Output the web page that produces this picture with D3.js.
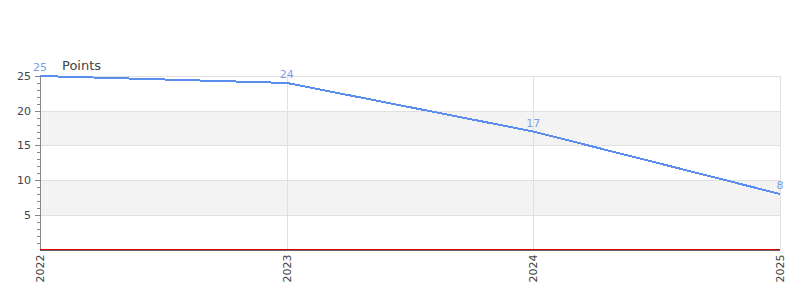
<!DOCTYPE html>
<html>
<head>
<meta charset="utf-8">
<script src="https://cdn.jsdelivr.net/npm/d3@7"></script>
<style>
  body { margin: 0; background: #fff; }
  svg { font-family: "DejaVu Sans", sans-serif; display: block; }
</style>
</head>
<body>
<svg id="chart"></svg>
<script>
// data
const years = [2022, 2023, 2024, 2025];
const points = [25, 24, 17, 8];
const yTicks = [5, 10, 15, 20, 25];
const seriesName = 'Points';

const width = 800, height = 300;
const margin = { top: 76, right: 20, bottom: 50.5, left: 40 };
const innerW = width - margin.left - margin.right;
const innerH = height - margin.top - margin.bottom;

const svg = d3.select('#chart').attr('width', width).attr('height', height);
const g = svg.append('g').attr('transform', `translate(${margin.left},${margin.top})`);

const x = d3.scaleLinear().domain(d3.extent(years)).range([0, innerW]);
const y = d3.scaleLinear().domain([0, 25]).range([innerH, 0]);

// alternating bands
const bands = d3.range(0, 25, 5);
g.selectAll('.band')
  .data(bands)
  .join('rect')
  .attr('class', 'band')
  .attr('x', 0)
  .attr('width', innerW)
  .attr('y', d => y(d + 5))
  .attr('height', d => y(d) - y(d + 5))
  .attr('fill', (d, i) => i % 2 === 1 ? '#f3f3f3' : '#fff');

// horizontal grid
g.selectAll('.hgrid')
  .data(yTicks)
  .join('line')
  .attr('x1', 0).attr('x2', innerW)
  .attr('y1', d => Math.round(y(d)) + 0.5).attr('y2', d => Math.round(y(d)) + 0.5)
  .attr('stroke', '#e0e0e0');

// vertical grid
g.selectAll('.vgrid')
  .data(years.slice(1))
  .join('line')
  .attr('y1', 0).attr('y2', innerH)
  .attr('x1', d => Math.round(x(d)) + 0.5).attr('x2', d => Math.round(x(d)) + 0.5)
  .attr('stroke', '#e0e0e0');

// y axis with minor ticks
const minor = d3.range(1, 26).filter(v => v % 5 !== 0);
g.append('line')
  .attr('x1', 0.5).attr('x2', 0.5)
  .attr('y1', 0).attr('y2', innerH)
  .attr('stroke', '#888');
g.selectAll('.minor')
  .data(minor)
  .join('line')
  .attr('x1', -3).attr('x2', 0)
  .attr('y1', d => Math.round(y(d)) + 0.5).attr('y2', d => Math.round(y(d)) + 0.5)
  .attr('stroke', '#888');
g.selectAll('.major')
  .data(yTicks)
  .join('line')
  .attr('x1', -5).attr('x2', 0)
  .attr('y1', d => Math.round(y(d)) + 0.5).attr('y2', d => Math.round(y(d)) + 0.5)
  .attr('stroke', '#888');
g.selectAll('.ylab')
  .data(yTicks)
  .join('text')
  .attr('x', -9)
  .attr('y', d => y(d))
  .attr('dy', '0.35em')
  .attr('text-anchor', 'end')
  .attr('font-size', 11)
  .attr('fill', '#444')
  .text(d => d);

// baseline
g.append('line')
  .attr('x1', 0).attr('x2', innerW)
  .attr('y1', innerH + 1).attr('y2', innerH + 1)
  .attr('stroke', '#666');
g.append('line')
  .attr('x1', 0).attr('x2', innerW)
  .attr('y1', innerH).attr('y2', innerH)
  .attr('stroke', '#e00000');

// x labels
g.selectAll('.xlab')
  .data(years)
  .join('text')
  .attr('transform', d => `translate(${x(d)},${innerH + 5}) rotate(-90)`)
  .attr('dy', '0.35em')
  .attr('text-anchor', 'end')
  .attr('font-size', 11)
  .attr('fill', '#444')
  .text(d => d);

// line
const line = d3.line()
  .x((d, i) => x(years[i]))
  .y(d => y(d));
g.append('path')
  .datum(points)
  .attr('d', line)
  .attr('fill', 'none')
  .attr('stroke', '#5b8def')
  .attr('stroke-width', 2)
  .attr('shape-rendering', 'crispEdges');

// value labels
g.selectAll('.vlab')
  .data(points)
  .join('text')
  .attr('x', (d, i) => x(years[i]))
  .attr('y', d => y(d) - 5)
  .attr('text-anchor', 'middle')
  .attr('font-size', 11)
  .attr('fill', '#7ba0ea')
  .text(d => d);

// series label
g.append('text')
  .attr('x', 22)
  .attr('y', -6)
  .attr('font-size', 13)
  .attr('fill', '#444')
  .text(seriesName);
</script>
</body>
</html>
